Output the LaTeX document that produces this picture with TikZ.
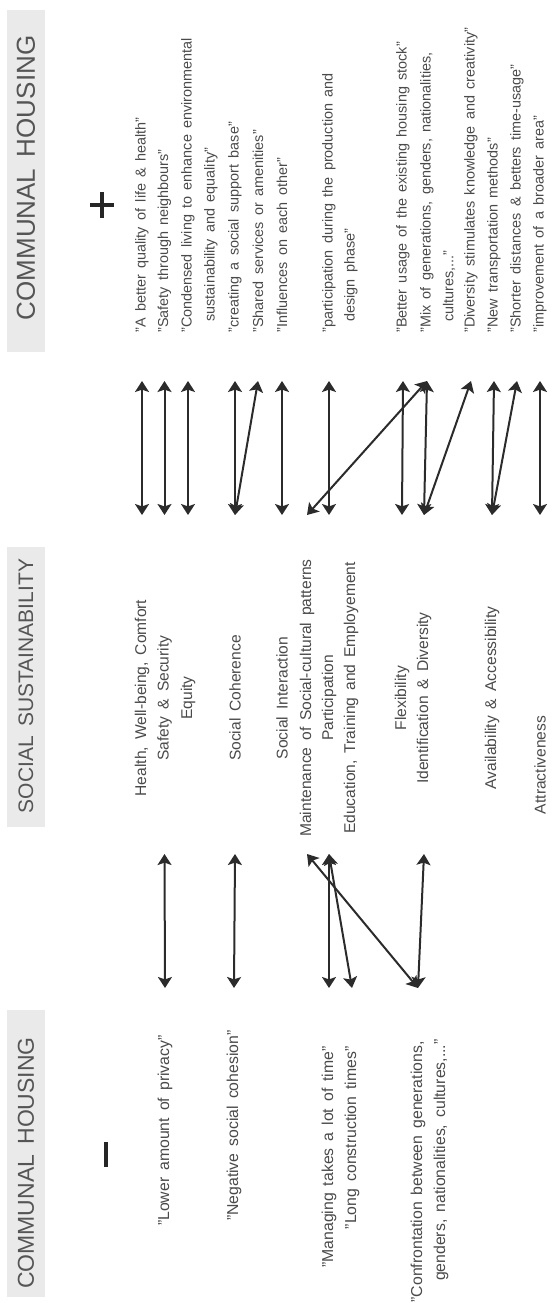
\documentclass[tikz,border=0pt]{standalone}
\usepackage{fontspec}
\setmainfont{Liberation Sans}[WordSpace=1.6]
\usetikzlibrary{arrows.meta}

\definecolor{bandgray}{HTML}{EAEAEA}
\definecolor{headgray}{HTML}{555555}
\definecolor{txtgray}{HTML}{4A4A4A}
\definecolor{arrowgray}{HTML}{2B2B2B}

\begin{document}
\begin{tikzpicture}[x=0.5pt, y=-0.5pt,
    >={Stealth[length=5.5pt, width=7pt, inset=1.2pt]},
    band/.style={fill=bandgray, draw=none},
    head/.style={rotate=90, text=headgray, inner sep=0pt},
    crit/.style={rotate=90, text=txtgray, inner sep=0pt, font=\fontsize{7.8}{9}\selectfont},
    pro/.style={rotate=90, anchor=west, text=txtgray, inner sep=0pt, font=\fontsize{7.2}{9}\selectfont},
    contra/.style={rotate=90, anchor=east, text=txtgray, inner sep=0pt, font=\fontsize{7.9}{9}\selectfont},
    sign/.style={line width=1.8pt, draw=black!85},
    link/.style={<->, line width=1pt, draw=arrowgray}]
  \useasboundingbox (0,0) rectangle (556,1303);

  % Header bands
  \fill[band] (7,10) rectangle (45,352);
  \fill[band] (7,547) rectangle (45,827);
  \fill[band] (7,1010) rectangle (45,1297);
  \node[head, font=\fontsize{13}{15}\selectfont] (h-plus) at (26,178) {COMMUNAL HOUSING};
  \node[head, font=\fontsize{10.5}{12}\selectfont] (h-soc) at (26,686) {SOCIAL SUSTAINABILITY};
  \node[head, font=\fontsize{11.5}{13}\selectfont] (h-min) at (26,1163) {COMMUNAL HOUSING};

  % Plus and minus
  \draw[sign] (102,192) -- (102,218);
  \draw[sign] (90,205) -- (114,205);
  \draw[sign] (106,1142) -- (106,1167);

  % Social sustainability criteria
  \node[crit] (m-health) at (142,698) {Health, Well-being, Comfort};
  \node[crit] (m-safety) at (164.5,698) {Safety \& Security};
  \node[crit] (m-equity) at (188,698) {Equity};
  \node[crit] (m-coh) at (235,698) {Social Coherence};
  \node[crit] (m-inter) at (282,698) {Social Interaction};
  \node[crit] (m-maint) at (307,698) {Maintenance of Social-cultural patterns};
  \node[crit] (m-part) at (329,698) {Participation};
  \node[crit] (m-edu) at (351,698) {Education, Training and Employement};
  \node[crit] (m-flex) at (402,698) {Flexibility};
  \node[crit] (m-ident) at (424,698) {Identification \& Diversity};
  \node[crit] (m-avail) at (492,698) {Availability \& Accessibility};
  \node[crit] (m-attr) at (540,765) {Attractiveness};

  % Positive quotes
  \node[pro] (q-better) at (142,333) {"A better quality of life \& health"};
  \node[pro] (q-safety) at (164.5,333) {"Safety through neighbours"};
  \node[pro] (q-cond) at (188,333) {"Condensed living to enhance environmental};
  \node[pro] (q-cond2) at (211,322) {sustainability and equality"};
  \node[pro] (q-social) at (235,333) {"creating a social support base"};
  \node[pro] (q-shared) at (258,333) {"Shared services or amenities"};
  \node[pro] (q-infl) at (282,333) {"Influences on each other"};
  \node[pro] (q-part) at (329,333) {"participation during the production and};
  \node[pro] (q-part2) at (351,322) {design phase"};
  \node[pro] (q-usage) at (403,333) {"Better usage of the existing housing stock"};
  \node[pro] (q-mix) at (427,333) {"Mix of generations, genders, nationalities,};
  \node[pro] (q-mix2) at (449,322) {cultures,..."};
  \node[pro] (q-div) at (471,333) {"Diversity stimulates knowledge and creativity"};
  \node[pro] (q-trans) at (494,333) {"New transportation methods"};
  \node[pro] (q-short) at (517,333) {"Shorter distances \& betters time-usage"};
  \node[pro] (q-impr) at (540,333) {"improvement of a broader area"};

  % Negative quotes
  \node[contra] (n-priv) at (165,1035) {"Lower amount of privacy"};
  \node[contra] (n-cohes) at (234,1030) {"Negative social cohesion"};
  \node[contra] (n-manag) at (329,1046) {"Managing takes a lot of time"};
  \node[contra] (n-long) at (352,1046) {"Long construction times"};
  \node[contra] (n-confr) at (418,1041) {"Confrontation between generations,};
  \node[contra] (n-confr2) at (441,1039) {genders, nationalities, cultures,..."};

  % Arrow ends
  \coordinate (rtip) at (0,381);
  \coordinate (mtop) at (0,515);
  \coordinate (mbot) at (0,854);
  \coordinate (ltip) at (0,988);

  % Links to the positive side
  \draw[link] (m-health |- mtop) -- (q-better |- rtip);
  \draw[link] (m-safety |- mtop) -- (q-safety |- rtip);
  \draw[link] (m-equity |- mtop) -- (q-cond |- rtip);
  \draw[link] (m-coh |- mtop) -- (q-social |- rtip);
  \draw[link] (m-coh |- mtop) -- (q-shared |- rtip);
  \draw[link] (m-inter |- mtop) -- (q-infl |- rtip);
  \draw[link] (m-part |- mtop) -- (q-part |- rtip);
  \draw[link] (m-maint |- mtop) -- (q-mix |- rtip);
  \draw[link] (m-flex |- mtop) -- (q-usage |- rtip);
  \draw[link] (m-ident |- mtop) -- (q-mix |- rtip);
  \draw[link] (m-ident |- mtop) -- (q-div |- rtip);
  \draw[link] (m-avail |- mtop) -- (q-trans |- rtip);
  \draw[link] (m-avail |- mtop) -- (q-short |- rtip);
  \draw[link] (m-attr |- mtop) -- (q-impr |- rtip);

  % Links to the negative side
  \draw[link] (m-safety |- mbot) -- (n-priv |- ltip);
  \draw[link] (m-coh |- mbot) -- (n-cohes |- ltip);
  \draw[link] (m-maint |- mbot) -- (n-confr |- ltip);
  \draw[link] (m-part |- mbot) -- (n-manag |- ltip);
  \draw[link] (m-part |- mbot) -- (n-long |- ltip);
  \draw[link] (m-ident |- mbot) -- (n-confr |- ltip);
\end{tikzpicture}
\end{document}
